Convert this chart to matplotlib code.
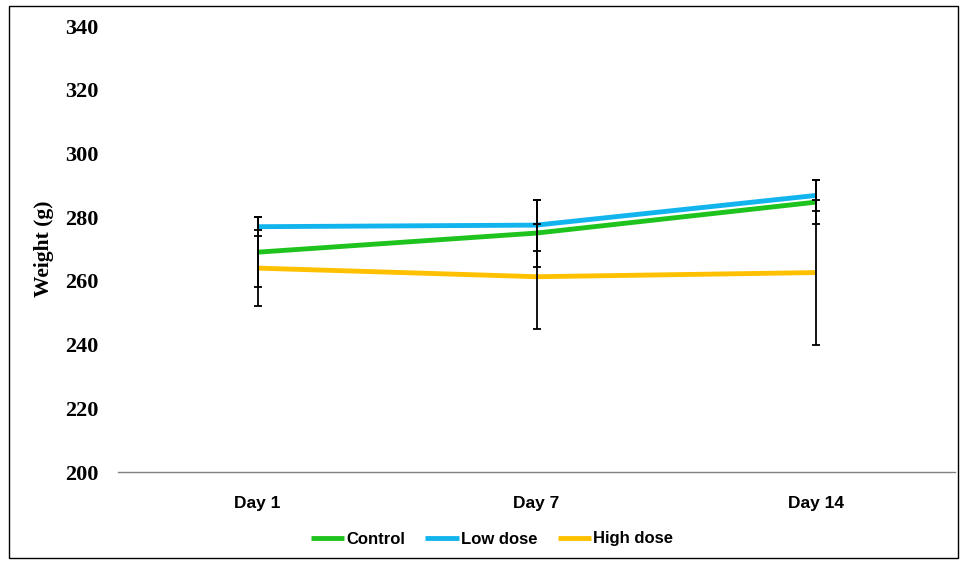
import numpy as np
import matplotlib
matplotlib.use("Agg")
import matplotlib.pyplot as plt
from matplotlib.patches import Rectangle

days = ["Day 1", "Day 7", "Day 14"]
control = [269.0, 275.0, 284.7]
control_err = [11.0, 10.5, 7.0]
low_dose = [277.0, 277.5, 286.8]
low_dose_err = [3.0, 8.0, 5.0]
high_dose = [264.0, 261.3, 262.6]
high_dose_err = [12.0, 16.5, 22.7]

series = [
    ("Control", control, control_err, "#1ec31e"),
    ("Low dose", low_dose, low_dose_err, "#12b4ee"),
    ("High dose", high_dose, high_dose_err, "#ffc000"),
]

fig = plt.figure(figsize=(9.61, 5.63), dpi=100)
ax = fig.add_axes([118 / 961, 1 - 472 / 563, (955 - 118) / 961, (472 - 26) / 563])

x = np.arange(len(days))
for name, vals, err, col in series:
    ax.plot(x, vals, color=col, lw=3.5, label=name, zorder=2, solid_capstyle="butt")
    ax.errorbar(x, vals, yerr=err, fmt="none", ecolor="black", elinewidth=1.3,
                capsize=3.2, capthick=1.3, zorder=3)

ax.set_xlim(-0.5, 2.5)
ax.set_ylim(200, 340)
ax.set_yticks(np.arange(200, 341, 20))
ax.set_xticks(x)
ax.set_xticklabels(days, fontfamily="Liberation Sans", fontweight="bold", fontsize=12.5)
for lab in ax.get_yticklabels():
    lab.set_fontfamily("Liberation Serif")
    lab.set_fontweight("bold")
    lab.set_fontsize(16)
ax.tick_params(axis="y", length=0, pad=14)
ax.tick_params(axis="x", length=0, pad=17)
for s in ["top", "right", "left"]:
    ax.spines[s].set_visible(False)
ax.spines["bottom"].set_color("#808080")
ax.spines["bottom"].set_linewidth(1.0)

ax.set_ylabel("Weight (g)", fontfamily="Liberation Serif", fontweight="bold", fontsize=15.5, labelpad=8)

leg = fig.legend(loc="center", bbox_to_anchor=(492 / 961, 1 - 539 / 563), ncol=3, frameon=False,
                 handlelength=2.0, handletextpad=0.15, columnspacing=1.2,
                 prop={"family": "Liberation Sans", "weight": "bold", "size": 12})
for h in leg.get_lines():
    h.set_linewidth(3.5)
    h.set_solid_capstyle("butt")

# thin frame around the whole figure
fig.patches.append(Rectangle((9 / 961, 5 / 563), 949 / 961, 552 / 563, transform=fig.transFigure,
                             fill=False, edgecolor="black", lw=1.0))

fig.savefig("out.png", dpi=100)
